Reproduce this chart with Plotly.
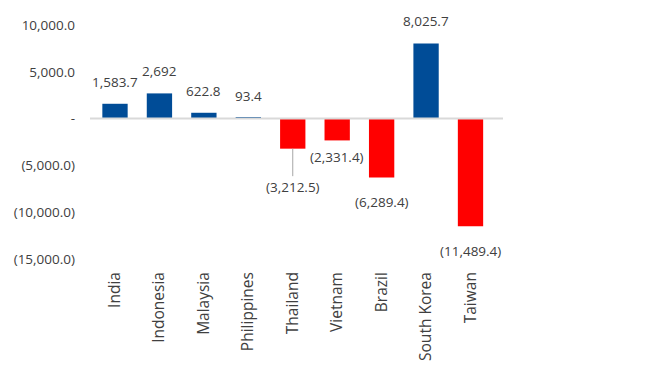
import plotly.graph_objects as go

categories = ["India", "Indonesia", "Malaysia", "Philippines", "Thailand",
              "Vietnam", "Brazil", "South Korea", "Taiwan"]
values = [1583.7, 2692, 622.8, 93.4, -3212.5, -2331.4, -6289.4, 8025.7, -11489.4]
labels = ["1,583.7", "2,692", "622.8", "93.4", "(3,212.5)", "(2,331.4)",
          "(6,289.4)", "8,025.7", "(11,489.4)"]
tick_vals = [-15000, -10000, -5000, 0, 5000, 10000]
tick_text = ["(15,000.0)", "(10,000.0)", "(5,000.0)", "-", "5,000.0", "10,000.0"]

BLUE = "#004C97"
RED = "#FF0000"
TXT = "#404040"
FONT = "Open Sans"

# label offsets in pixels (styling only)
label_shift = {"Vietnam": -17}

colors = [BLUE if v >= 0 else RED for v in values]

fig = go.Figure()
fig.add_trace(go.Bar(x=categories, y=values, marker=dict(color=colors, line=dict(width=0)),
                     hoverinfo="skip"))

for c, v, t in zip(categories, values, labels):
    if c == "Thailand":
        fig.add_annotation(x=c, y=v, text=t, showarrow=True, arrowhead=0,
                           arrowwidth=1, arrowcolor="#A6A6A6", ax=0, ay=38,
                           standoff=0, font=dict(family=FONT, size=13.5, color=TXT))
    else:
        shift = label_shift.get(c, 22 if v >= 0 else -25)
        fig.add_annotation(x=c, y=v, text=t, showarrow=False, yshift=shift,
                           font=dict(family=FONT, size=13.5, color=TXT))

# category axis baseline drawn above the bars
fig.add_shape(type="line", xref="paper", yref="y", x0=0, x1=1, y0=0, y1=0,
              line=dict(color="#D9D9D9", width=2), layer="above")

fig.update_layout(
    width=648, height=365,
    margin=dict(l=90, r=145, t=25, b=106),
    paper_bgcolor="white", plot_bgcolor="white",
    bargap=0.43, showlegend=False,
    font=dict(family=FONT, size=13, color=TXT),
)
fig.update_xaxes(showgrid=False, showline=False, tickangle=-90, automargin=False,
                 ticklabelstandoff=9, tickfont=dict(family=FONT, size=15.5, color=TXT))
fig.update_yaxes(range=[-15000, 10000], tickvals=tick_vals, ticktext=tick_text,
                 showgrid=False, zeroline=False, automargin=False,
                 showline=False, ticklabelstandoff=14,
                 tickfont=dict(family=FONT, size=13.5, color=TXT))

fig.write_html("out.html")
